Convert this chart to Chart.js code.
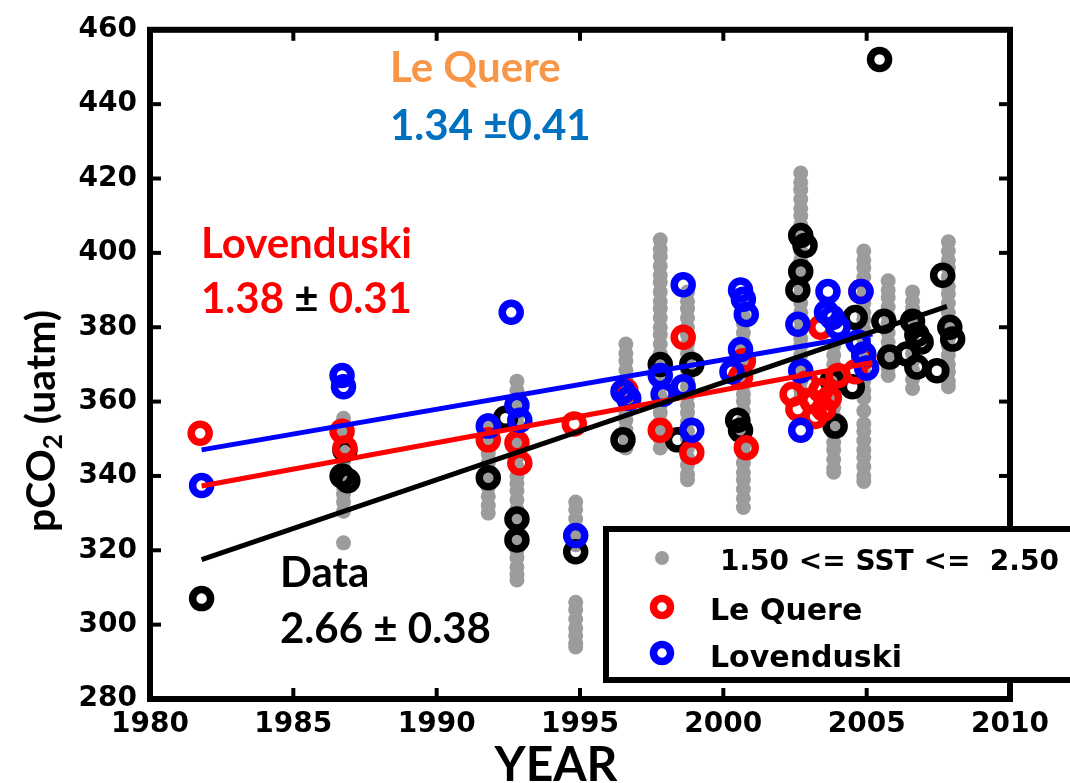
<!DOCTYPE html>
<html>
<head>
<meta charset="utf-8">
<script src="https://cdn.jsdelivr.net/npm/chart.js@4.4.1/dist/chart.umd.min.js"></script>
<style>
html,body{margin:0;padding:0;background:#ffffff;}
canvas{display:block;}
</style>
</head>
<body>
<canvas id="c" width="1070" height="783"></canvas>
<script>
// ---------- data ----------
const xTicks = [1980, 1985, 1990, 1995, 2000, 2005, 2010];
const yTicks = [280, 300, 320, 340, 360, 380, 400, 420, 440, 460];

// gray observations (1.50 <= SST <= 2.50), grouped by cruise year
const grayYears = [1986.75, 1991.8, 1992.8, 1994.85, 1996.6, 1997.8, 1998.75, 2000.7, 2002.7, 2003.85, 2004.9, 2005.75, 2006.6, 2007.85];
const grayValues = [
  [355.5, 353, 351, 348.5, 346, 344, 342, 339.5, 337, 335, 333, 330.5, 322],
  [355, 352.5, 350.5, 348, 346, 343.5, 341, 339, 337, 334.5, 332, 330],
  [365.5, 363, 361, 358.5, 356, 354, 352, 349.5, 347, 345, 342.5, 340, 338, 336, 333.5, 331, 329, 327, 324.5, 322, 320, 318, 315.5, 313.5, 312],
  [333, 331, 328.5, 326, 324, 321.5, 306, 304, 301.5, 299, 297, 295, 294],
  [375.5, 373, 371, 368.5, 366, 364, 361.5, 359, 357, 355, 352.5, 350, 347.5],
  [403.5, 401, 399, 396.5, 394, 392, 389.5, 387, 385, 382.5, 380, 378, 375.5, 373, 371, 368.5, 366, 364, 361.5, 359, 357, 354.5, 352, 350, 347.5],
  [389.5, 387, 385, 382.5, 380, 378, 375.5, 373, 371, 368.5, 366, 364, 361.5, 359, 357, 354.5, 352, 350, 347.5, 345, 343, 340.5, 339],
  [388, 385.5, 383, 381, 378.5, 376, 374, 371.5, 369, 367, 364.5, 362, 360, 357.5, 355, 353, 350.5, 348, 346, 343.5, 341, 339, 336.5, 334, 331.5],
  [421.5, 419, 417, 414.5, 412, 410, 407.5, 405, 403, 400.5, 398, 396, 393.5, 391, 389, 386.5, 384, 382, 379.5, 377, 375, 372.5, 370, 368, 365.5, 363, 361],
  [375, 372.5, 370, 368, 365.5, 363, 361, 358.5, 356, 354, 351.5, 349, 347, 344.5, 342, 341],
  [400.5, 398, 396, 393.5, 391, 389, 386.5, 384, 382, 379.5, 377, 375, 372.5, 370, 368, 365.5, 363, 361, 357.5, 354, 352, 349.5, 347, 345, 342.5, 340, 338.5],
  [392.5, 390, 388, 385.5, 383, 381, 378.5, 376, 374, 371.5, 369, 367],
  [389.5, 387, 385, 382.5, 380, 378, 375.5, 373, 371, 368.5, 366, 363.5],
  [403, 400.5, 398, 396, 393.5, 391, 389, 386.5, 384, 382, 379.5, 377, 375, 372.5, 370, 368, 365.5, 364]
];

// Data (black circles)
const dataYears  = [1981.8, 1986.8, 1986.7, 1986.9, 1991.8, 1992.4, 1992.8, 1992.8, 1994.85, 1996.5, 1997.8, 1998.4, 1998.9, 2000.5, 2000.6, 2002.7, 2002.85, 2002.7, 2002.6, 2003.8, 2003.9, 2004.6, 2004.5, 2005.45, 2005.6, 2005.8, 2006.4, 2006.6, 2006.75, 2006.9, 2006.75, 2007.45, 2007.65, 2007.9, 2008.0];
const dataValues = [307, 347, 340, 338.7, 339.5, 355.5, 328.4, 322.8, 319.6, 349.7, 370, 349.7, 370, 355, 352.3, 404.7, 402, 395, 390, 365.6, 353.4, 382.6, 364, 452, 381.6, 372, 372.8, 381.6, 378, 376, 369.3, 368.3, 394, 380, 376.8];

// Le Quere (red circles)
const lqYears  = [1981.75, 1986.7, 1986.8, 1991.8, 1992.8, 1992.9, 1994.8, 1996.6, 1997.8, 1998.6, 1998.9, 2000.6, 2000.7, 2000.8, 2002.4, 2002.6, 2002.9, 2003.1, 2003.2, 2003.4, 2003.5, 2003.7, 2004.0, 2003.4, 2004.8, 2004.9, 2004.6];
const lqValues = [351.5, 352, 347.5, 349.7, 348.9, 343.5, 354, 363, 352.3, 377.3, 346.3, 366.7, 371, 347.6, 362, 358, 365, 360, 356, 363, 358, 361, 367, 380, 389.6, 372, 368];

// Lovenduski (blue circles)
const lovYears  = [1981.8, 1986.7, 1986.75, 1991.8, 1992.6, 1992.8, 1992.9, 1994.85, 1996.5, 1996.7, 1997.8, 1997.9, 1998.6, 1998.6, 1998.9, 2000.6, 2000.7, 2000.8, 2000.6, 2000.3, 2002.6, 2002.7, 2002.7, 2003.65, 2003.6, 2003.8, 2004.0, 2004.8, 2004.9, 2005.0, 2004.7];
const lovValues = [337.4, 367, 364, 353.4, 384, 359, 355, 324, 362.7, 360.8, 367, 362, 391.4, 364, 352.3, 390, 387.5, 383.4, 374, 368, 380.8, 368.3, 352.3, 389.6, 384, 382.6, 380, 389.6, 372.8, 369, 376];

// trend lines (endpoints)
const dataTrendYears = [1981.8, 2007.8];
const dataTrendValues = [317.5, 385.6];
const lqTrendYears = [1981.8, 2005.2];
const lqTrendValues = [337.3, 370.5];
const lovTrendYears = [1981.8, 2005.2];
const lovTrendValues = [347.0, 378.2];

// ---------- build ----------
function pts(xs, ys){ return xs.map((v,i)=>({x:v, y:ys[i]})); }
const grayPts = [];
grayYears.forEach((yr,i)=>{ grayValues[i].forEach(v=>grayPts.push({x:yr, y:v})); });

const GRAY = '#9c9c9c';
const ring = (color, order, data) => ({
  type:'scatter', data, order,
  pointStyle:'circle', pointRadius:9, pointHoverRadius:9,
  borderColor:color, backgroundColor:'rgba(0,0,0,0)', pointBorderWidth:7.5, borderWidth:7.5
});
const trend = (color, order, data) => ({
  type:'line', data, order, showLine:true, borderColor:color, borderWidth:5,
  pointRadius:0, pointHoverRadius:0, fill:false, tension:0
});

const TICKFONT = {family:'"DejaVu Sans", sans-serif', size:28, weight:'bold'};

const decor = {
  id:'decor',
  afterDraw(chart){
    const {ctx, chartArea:a, scales:{x, y}} = chart;
    ctx.save();
    // frame
    ctx.strokeStyle = '#000'; ctx.lineWidth = 6; ctx.lineJoin = 'miter';
    ctx.strokeRect(a.left, a.top, a.right - a.left, a.bottom - a.top);
    // inward ticks on all sides
    ctx.lineWidth = 4; ctx.lineCap = 'butt';
    const seg = (x1,y1,x2,y2)=>{ ctx.beginPath(); ctx.moveTo(x1,y1); ctx.lineTo(x2,y2); ctx.stroke(); };
    xTicks.forEach(v=>{ const p = x.getPixelForValue(v); seg(p, a.bottom, p, a.bottom-11); seg(p, a.top, p, a.top+11); });
    yTicks.forEach(v=>{ const p = y.getPixelForValue(v); seg(a.left, p, a.left+11, p); seg(a.right, p, a.right-11, p); });

    // annotations
    const AF = '"Lato", "Open Sans", sans-serif';
    ctx.font = 'bold 42px ' + AF; ctx.textBaseline = 'alphabetic'; ctx.textAlign = 'left';
    ctx.fillStyle = '#F79646'; ctx.fillText('Le Quere', 390, 82);
    ctx.fillStyle = '#0070C0'; ctx.fillText('1.34 \u00B10.41', 390, 140);
    ctx.fillStyle = '#FF0000'; ctx.fillText('Lovenduski', 201, 258);
    let xx = 201;
    ctx.fillStyle = '#FF0000'; ctx.fillText('1.38 ', xx, 313); xx += ctx.measureText('1.38 ').width;
    ctx.fillStyle = '#000000'; ctx.fillText('\u00B1', xx, 313); xx += ctx.measureText('\u00B1 ').width;
    ctx.fillStyle = '#FF0000'; ctx.fillText('0.31', xx, 313);
    ctx.fillStyle = '#000000'; ctx.fillText('Data', 280, 587);
    ctx.fillText('2.66 \u00B1 0.38', 280, 643);

    // axis titles
    ctx.fillStyle = '#000';
    ctx.font = 'bold 48px ' + AF; ctx.textAlign = 'center';
    ctx.fillText('YEAR', 556, 781);
    // y title with subscript
    ctx.save();
    ctx.translate(42, 421); ctx.rotate(-Math.PI/2);
    const big = 'bold 41px ' + AF, small = 'bold 26px ' + AF;
    ctx.font = big; const w1 = ctx.measureText('pCO').width, w3 = ctx.measureText(' (uatm)').width;
    ctx.font = small; const w2 = ctx.measureText('2').width;
    let sx = -(w1+w2+w3)/2;
    ctx.textAlign = 'left'; ctx.textBaseline = 'middle';
    ctx.font = big; ctx.fillText('pCO', sx, 0); sx += w1;
    ctx.font = small; ctx.fillText('2', sx, 12); sx += w2;
    ctx.font = big; ctx.fillText(' (uatm)', sx, 0);
    ctx.restore();

    // legend box
    ctx.fillStyle = '#fff'; ctx.strokeStyle = '#000'; ctx.lineWidth = 6;
    ctx.fillRect(606, 529, 480, 151);
    ctx.strokeRect(606, 529, 480, 151);
    // markers
    ctx.fillStyle = GRAY; ctx.beginPath(); ctx.arc(662, 558, 7, 0, Math.PI*2); ctx.fill();
    ctx.lineWidth = 7.5;
    ctx.strokeStyle = '#FF0000'; ctx.beginPath(); ctx.arc(662, 607, 8.5, 0, Math.PI*2); ctx.stroke();
    ctx.strokeStyle = '#0000FF'; ctx.beginPath(); ctx.arc(662, 653, 8.5, 0, Math.PI*2); ctx.stroke();
    ctx.fillStyle = '#000'; ctx.textAlign = 'left'; ctx.textBaseline = 'alphabetic';
    ctx.font = 'bold 28px "DejaVu Sans", sans-serif';
    ctx.fillText('1.50 <= SST <=  2.50', 720, 570);
    ctx.font = 'bold 30px "DejaVu Sans", sans-serif';
    ctx.fillText('Le Quere', 710, 620);
    ctx.fillText('Lovenduski', 710, 667);
    ctx.restore();
  }
};

new Chart(document.getElementById('c'), {
  type:'scatter',
  data:{
    datasets:[
      {label:'1.50 <= SST <=  2.50', type:'scatter', data:grayPts, order:10, pointStyle:'circle', pointRadius:7.5, pointHoverRadius:7.5, backgroundColor:GRAY, borderColor:GRAY, borderWidth:0},
      Object.assign(ring('#000000', 9, pts(dataYears, dataValues)), {label:'Data'}),
      Object.assign(ring('#FF0000', 8, pts(lqYears, lqValues)), {label:'Le Quere'}),
      Object.assign(ring('#0000FF', 7, pts(lovYears, lovValues)), {label:'Lovenduski'}),
      Object.assign(trend('#FF0000', 3, pts(lqTrendYears, lqTrendValues)), {label:'Le Quere trend'}),
      Object.assign(trend('#0000FF', 2, pts(lovTrendYears, lovTrendValues)), {label:'Lovenduski trend'}),
      Object.assign(trend('#000000', 1, pts(dataTrendYears, dataTrendValues)), {label:'Data trend'})
    ]
  },
  options:{
    responsive:false, animation:false, devicePixelRatio:1,
    layout:{padding:{left:0, top:22, right:60, bottom:0}},
    plugins:{legend:{display:false}, tooltip:{enabled:false}},
    scales:{
      x:{type:'linear', min:1980, max:2010,
        grid:{display:false, drawTicks:false}, border:{display:false},
        ticks:{stepSize:5, padding:9, color:'#000', font:TICKFONT, maxRotation:0, autoSkip:false, callback:v=>String(v)},
        afterFit(s){ s.height = 84; }
      },
      y:{type:'linear', min:280, max:460,
        grid:{display:false, drawTicks:false}, border:{display:false},
        ticks:{stepSize:20, padding:13, color:'#000', font:TICKFONT, autoSkip:false},
        afterFit(s){ s.width = 150; }
      }
    }
  },
  plugins:[decor]
});
</script>
</body>
</html>
